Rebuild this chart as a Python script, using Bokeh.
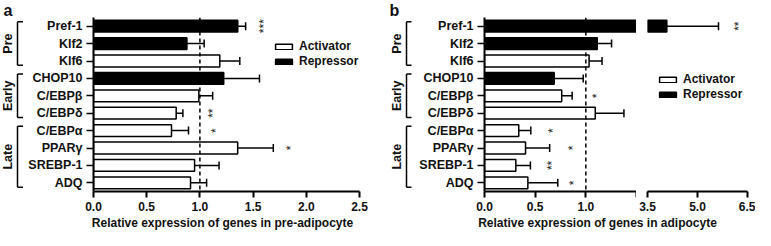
import math
from bokeh.plotting import figure
from bokeh.layouts import row, column
from bokeh.models import (FactorRange, Range1d, ColumnDataSource, Span, Whisker, TeeHead,
                          Legend, LegendItem, FixedTicker, PrintfTickFormatter)
from bokeh.transform import dodge
from bokeh.embed import file_html
from bokeh.resources import INLINE
from bokeh.core.properties import value

# ---------------- data ----------------
genes = ["Pref-1", "Klf2", "Klf6", "CHOP10", "C/EBPβ", "C/EBPδ",
         "C/EBPα", "PPARγ", "SREBP-1", "ADQ"]
roles = ["Repressor", "Repressor", "Activator", "Repressor", "Activator",
         "Activator", "Activator", "Activator", "Activator", "Activator"]

groups = ["Pre", "Early", "Late"]
group_first = ["Pref-1", "CHOP10", "C/EBPα"]
group_last = ["Klf6", "C/EBPδ", "ADQ"]
group_size = [3, 3, 4]

# pre-adipocyte (panel a): mean and mean + error
pre_mean = [1.356, 0.878, 1.187, 1.224, 0.99, 0.777, 0.733, 1.355, 0.95, 0.912]
pre_upper = [1.43, 1.04, 1.375, 1.56, 1.12, 0.84, 0.893, 1.69, 1.18, 1.063]
pre_sig = ["***", "", "", "", "", "**", "*", "*", "", ""]
pre_sig_x = [1.60, None, None, None, None, 1.12, 1.15, 1.86, None, None]
pre_range = (0.0, 2.5)
pre_ticks = [0.0, 0.5, 1.0, 1.5, 2.0, 2.5]

# adipocyte (panel b): broken axis 0-1.5 | 3.5-6.5
adi_mean = [4.08, 1.113, 1.032, 0.688, 0.762, 1.093, 0.338, 0.405, 0.309, 0.428]
adi_upper = [5.63, 1.254, 1.16, 0.974, 0.865, 1.376, 0.457, 0.643, 0.453, 0.723]
adi_sig = ["**", "", "", "", "*", "", "*", "*", "**", "*"]
adi_sig_x = [6.25, None, None, None, 1.113, None, 0.675, 0.875, 0.663, 0.884]
adi_low = (0.0, 1.5)
adi_high = (3.5, 6.5)
adi_ticks_low = [0.0, 0.5, 1.0, 1.5]
adi_ticks_high = [3.5, 5.0, 6.5]

reference_level = 1.0
xlabel_a = "Relative expression of genes in pre-adipocyte"
xlabel_b = "Relative expression of genes in adipocyte"

# ---------------- style ----------------
FONT = "Liberation Sans"
FH = 174          # frame height
BOT = 24          # bottom border (ticks + tick labels)
ROW_H = FH + BOT
LET_H = 17
LBL_H = 230 - LET_H - ROW_H
ACT_FILL, REP_FILL = "white", "black"
TXT = "#111111"
BAR_KW = dict(height=0.68, line_color="black", line_width=1.5)


def make_sources(mean, upper, lo=None):
    act = dict(gene=[], mean=[], upper=[])
    rep = dict(gene=[], mean=[], upper=[])
    for g, r, m, u in zip(genes, roles, mean, upper):
        if lo is not None and m < lo:
            continue
        d = act if r == "Activator" else rep
        d["gene"].append(g); d["mean"].append(m); d["upper"].append(u)
    return act, rep


def style_xaxis(p, ticks, overrides=None):
    ax = p.xaxis[0]
    ax.ticker = FixedTicker(ticks=ticks)
    ax.formatter = PrintfTickFormatter(format="%.1f")
    if overrides:
        ax.major_label_overrides = overrides
    ax.major_label_text_font = FONT
    ax.major_label_text_font_style = "bold"
    ax.major_label_text_font_size = "12px"
    ax.major_label_text_color = TXT
    ax.major_label_standoff = 4
    ax.axis_line_width = 2
    ax.major_tick_line_width = 2
    ax.major_tick_out = 6
    ax.major_tick_in = 0
    ax.minor_tick_line_color = None


def style_yaxis(p):
    ax = p.yaxis[0]
    ax.major_label_text_font = FONT
    ax.major_label_text_font_style = "bold"
    ax.major_label_text_font_size = "12.5px"
    ax.major_label_text_color = TXT
    ax.major_label_standoff = 4
    ax.axis_line_width = 2
    ax.major_tick_line_width = 1.5
    ax.major_tick_out = 7
    ax.major_tick_in = 0
    ax.minor_tick_line_color = None


def bars_fig(yr, xr, width, left, right, mean, upper, yaxis=True):
    p = figure(output_backend="svg", toolbar_location=None, title=None,
               x_range=Range1d(*xr), y_range=yr, width=width, height=ROW_H,
               min_border_top=0, min_border_bottom=BOT,
               min_border_left=left, min_border_right=right,
               x_axis_location="below", y_axis_location="left" if yaxis else None)
    p.outline_line_color = None
    p.grid.visible = False
    # only bars that reach into this segment of the (broken) axis
    act, rep = make_sources(mean, upper, xr[0] if xr[0] > 0 else None)
    r_act = p.hbar(y="gene", left=0, right="mean", source=ColumnDataSource(act),
                   fill_color=ACT_FILL, **BAR_KW)
    r_rep = p.hbar(y="gene", left=0, right="mean", source=ColumnDataSource(rep),
                   fill_color=REP_FILL, **BAR_KW)
    if xr[0] <= reference_level <= xr[1]:
        p.add_layout(Span(location=reference_level, dimension="height", line_color="black",
                          line_width=1.5, line_dash="4 3"))
    if yaxis:
        style_yaxis(p)
    return p, r_act, r_rep


def legend_renderers(p, mean, upper):
    # hidden copies of the full series, used only to draw the legend swatches
    act, rep = make_sources(mean, upper)
    ra = p.hbar(y="gene", left=0, right="mean", source=ColumnDataSource(act),
                fill_color=ACT_FILL, visible=False, **BAR_KW)
    rr = p.hbar(y="gene", left=0, right="mean", source=ColumnDataSource(rep),
                fill_color=REP_FILL, visible=False, **BAR_KW)
    return ra, rr


def add_whiskers(p, mean, upper, lo, hi):
    d = dict(gene=[], mean=[], upper=[])
    for g, m, u in zip(genes, mean, upper):
        if lo <= u <= hi:
            d["gene"].append(g); d["mean"].append(m); d["upper"].append(u)
    w = Whisker(source=ColumnDataSource(d), base="gene", lower="mean", upper="upper",
                dimension="width", line_color="black", line_width=1.5,
                lower_head=None,
                upper_head=TeeHead(size=8, line_color="black", line_width=1.5))
    p.add_layout(w)


def add_stars(p, sig, sx, lo, hi):
    d = dict(gene=[], x=[], t=[])
    for g, s, x in zip(genes, sig, sx):
        if s and x is not None and lo <= x <= hi:
            d["gene"].append(g); d["x"].append(x); d["t"].append(s)
    p.text(x="x", y="gene", text="t", source=ColumnDataSource(d), angle=math.pi / 2,
           text_align="center", text_baseline="middle", text_font=value(FONT),
           text_font_size="12px", text_color="#222222")


def add_legend(p, r_act, r_rep, loc):
    lg = Legend(items=[LegendItem(label="Activator", renderers=[r_act]),
                       LegendItem(label="Repressor", renderers=[r_rep])],
                location=loc, padding=0, margin=0, spacing=1,
                glyph_width=21, glyph_height=7, label_height=14, label_standoff=5,
                border_line_color=None, background_fill_alpha=0,
                inactive_fill_alpha=0,
                label_text_font=FONT, label_text_font_style="bold",
                label_text_font_size="12px", label_text_color=TXT)
    p.add_layout(lg)


def bracket_fig(yr, w, x_text, x_line, x_tick):
    p = figure(output_backend="svg", toolbar_location=None, title=None,
               x_range=Range1d(0, w), y_range=yr, width=w, height=ROW_H,
               min_border_top=0, min_border_bottom=BOT, min_border_left=0, min_border_right=0,
               x_axis_location=None, y_axis_location=None)
    p.outline_line_color = None
    p.grid.visible = False
    for name, first, last, n in zip(groups, group_first, group_last, group_size):
        s1 = ColumnDataSource(dict(x=[x_line], x2=[x_tick], a=[first], b=[last]))
        top = dodge("a", 0.25, range=yr)
        bot = dodge("b", -0.25, range=yr)
        p.segment(x0="x", x1="x", y0=top, y1=bot, source=s1, line_color="black", line_width=1.5)
        p.segment(x0="x", x1="x2", y0=top, y1=top, source=s1, line_color="black", line_width=1.5)
        p.segment(x0="x", x1="x2", y0=bot, y1=bot, source=s1, line_color="black", line_width=1.5)
        s2 = ColumnDataSource(dict(x=[x_text], a=[first], t=[name]))
        p.text(x="x", y=dodge("a", -(n - 1) / 2, range=yr), text="t", source=s2,
               angle=math.pi / 2, text_align="center", text_baseline="middle",
               text_font=value(FONT), text_font_style="bold", text_font_size="12.5px",
               text_color=TXT)
    return p


def text_fig(w, h, xc, yc, text, size, align, baseline):
    p = figure(output_backend="svg", toolbar_location=None, title=None, width=w, height=h,
               x_range=Range1d(0, w), y_range=Range1d(0, h),
               min_border=0, x_axis_location=None, y_axis_location=None)
    p.outline_line_color = None
    p.grid.visible = False
    p.text(x=[xc], y=[yc], text=[text], text_align=align, text_baseline=baseline,
           text_font=value(FONT), text_font_style="bold", text_font_size=size,
           text_color=TXT)
    return p


# ---------------- panel a ----------------
yr_a = FactorRange(factors=genes[::-1])
BR_A, MAIN_A = 24, 345
br_a = bracket_fig(yr_a, BR_A, 7, 17, 22.5)
pa, ra_act, ra_rep = bars_fig(yr_a, pre_range, MAIN_A, 69, 10, pre_mean, pre_upper)
style_xaxis(pa, pre_ticks)
add_whiskers(pa, pre_mean, pre_upper, *pre_range)
add_stars(pa, pre_sig, pre_sig_x, *pre_range)
add_legend(pa, ra_act, ra_rep, (180, 123))
W_A = BR_A + MAIN_A
let_a = text_fig(W_A, LET_H, 3, LET_H - 1, "a", "16px", "left", "top")
lab_a = text_fig(W_A, LBL_H, 222, LBL_H / 2, xlabel_a, "12px", "center", "middle")
panel_a = column(let_a, row(br_a, pa), lab_a)

# ---------------- panel b ----------------
yr_b = FactorRange(factors=genes[::-1])
BR_B, LOW_B, HIGH_B = 43, 224, 119
br_b = bracket_fig(yr_b, BR_B, 27, 37, 42)
pb1, rb1_act, rb1_rep = bars_fig(yr_b, adi_low, LOW_B, 72, 0, adi_mean, adi_upper)
style_xaxis(pb1, adi_ticks_low, {1.5: ""})
add_whiskers(pb1, adi_mean, adi_upper, *adi_low)
add_stars(pb1, adi_sig, adi_sig_x, *adi_low)

pb2, rb2_act, rb2_rep = bars_fig(yr_b, adi_high, HIGH_B, 11, 8, adi_mean, adi_upper, yaxis=False)
style_xaxis(pb2, adi_ticks_high)
add_whiskers(pb2, adi_mean, adi_upper, *adi_high)
add_stars(pb2, adi_sig, adi_sig_x, *adi_high)
lg_act, lg_rep = legend_renderers(pb2, adi_mean, adi_upper)
add_legend(pb2, lg_act, rb2_rep, (10, 90))
W_B = BR_B + LOW_B + HIGH_B
let_b = text_fig(W_B, LET_H, 20, LET_H - 1, "b", "16px", "left", "top")
lab_b = text_fig(W_B, LBL_H, 228, LBL_H / 2, xlabel_b, "12px", "center", "middle")
panel_b = column(let_b, row(br_b, pb1, pb2), lab_b)

layout = row(panel_a, panel_b)
open("out.html", "w").write(file_html(layout, INLINE))
